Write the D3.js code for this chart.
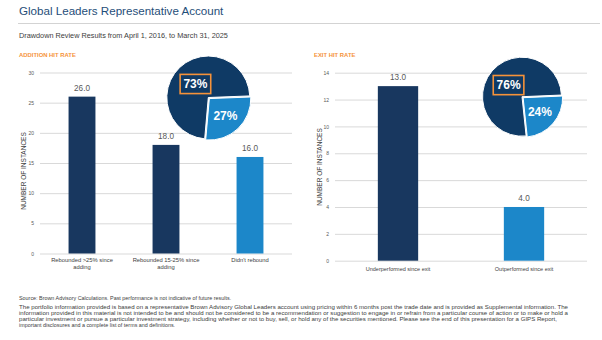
<!DOCTYPE html>
<html>
<head>
<meta charset="utf-8">
<script src="https://cdn.jsdelivr.net/npm/d3@7"></script>
<style>
	body { margin: 0; background: #fff; }
	svg { display: block; font-family: "Liberation Sans", Arial, sans-serif; }
</style>
</head>
<body>
<script>
	// chart data
	let addCategories = ["Rebounded >25% since\nadding", "Rebounded 15-25% since\nadding", "Didn't rebound"];
	let addValues = [26, 18, 16];
	let addTicks = [0, 5, 10, 15, 20, 25, 30];
	let addHit = [73, 27];

	let exitCategories = ["Underperformed since exit", "Outperformed since exit"];
	let exitValues = [13, 4];
	let exitTicks = [0, 2, 4, 6, 8, 10, 12, 14];
	let exitHit = [76, 24];

	let footerLines = [
		"The portfolio information provided is based on a representative Brown Advisory Global Leaders account using pricing within 6 months post the trade date and is provided as Supplemental information. The",
		"information provided in this material is not intended to be and should not be considered to be a recommendation or suggestion to engage in or refrain from a particular course of action or to make or hold a",
		"particular investment or pursue a particular investment strategy, including whether or not to buy, sell, or hold any of the securities mentioned. Please see the end of this presentation for a GIPS Report,",
		"important disclosures and a complete list of terms and definitions."
	];

	let navy = "#18375f";
	let pieNavy = "#0f3a65";
	let blue = "#1c87c9";
	let orange = "#f5923a";
	let grid = "#d9d9d9";

	let svg = d3.select("body").append("svg").attr("width", 602).attr("height", 340);

	// header
	svg.append("text").attr("x", 19).attr("y", 14.5).attr("font-size", 11.6).attr("fill", "#1f4e79")
		.text("Global Leaders Representative Account");
	svg.append("line").attr("x1", 18).attr("x2", 600).attr("y1", 23.5).attr("y2", 23.5)
		.attr("stroke", "#c8c8c8").attr("stroke-width", 0.8);
	svg.append("text").attr("x", 19).attr("y", 37.6).attr("font-size", 7.3).attr("fill", "#404040")
		.text("Drawdown Review Results from April 1, 2016, to March 31, 2025");

	function drawChart(opt) {
		let g = svg.append("g");

		g.append("text").attr("x", opt.titleX).attr("y", 56.6).attr("font-size", 5.9)
			.attr("font-weight", "bold").attr("fill", orange).text(opt.title);

		let x = d3.scaleBand().domain(opt.categories).range(opt.xRange).paddingInner(0.68).paddingOuter(0.34);
		let y = d3.scaleLinear().domain([0, opt.max]).range(opt.yRange);

		// gridlines + tick labels
		let yAxis = g.append("g").attr("transform", `translate(${opt.xRange[0]},0)`)
			.call(d3.axisLeft(y).tickValues(opt.ticks).tickSize(-(opt.xRange[1] - opt.xRange[0])).tickPadding(6));
		yAxis.select(".domain").remove();
		yAxis.selectAll("line").attr("stroke", grid).attr("stroke-width", 1);
		yAxis.selectAll("text").attr("font-size", 5).attr("fill", "#595959").attr("font-family", null);

		g.append("text").attr("transform", `translate(${opt.labelX},${opt.labelY}) rotate(-90)`)
			.attr("text-anchor", "middle").attr("font-size", 6.5).attr("fill", "#404040").attr("dy", "0.35em")
			.text("NUMBER OF INSTANCES");

		// bars
		g.selectAll("rect.bar").data(opt.values).enter().append("rect").attr("class", "bar")
			.attr("x", (d, i) => x(opt.categories[i]))
			.attr("width", x.bandwidth())
			.attr("y", d => y(d))
			.attr("height", d => y(0) - y(d))
			.attr("fill", (d, i) => opt.colors[i]);

		g.selectAll("text.val").data(opt.values).enter().append("text").attr("class", "val")
			.attr("x", (d, i) => x(opt.categories[i]) + x.bandwidth() / 2)
			.attr("y", d => y(d) - 5.8)
			.attr("text-anchor", "middle").attr("font-size", 8.2).attr("fill", "#595959")
			.text(d => d.toFixed(1));

		// category labels
		let xAxis = g.append("g").attr("transform", `translate(0,${y(0)})`)
			.call(d3.axisBottom(x).tickSize(0).tickPadding(0));
		xAxis.select(".domain").remove();
		xAxis.selectAll("text").attr("font-size", opt.catSize).attr("fill", "#404040").attr("font-family", null)
			.attr("dy", null).attr("y", 0)
			.each(function(d) {
				let t = d3.select(this).text("");
				d.split("\n").forEach((line, i) => {
					t.append("tspan").attr("x", 0).attr("y", opt.catY + i * 7).text(line);
				});
			});

		// pie
		let r = opt.pieR;
		let pie = d3.pie().sort(null).startAngle(opt.pieStart * Math.PI / 180)
			.endAngle(opt.pieStart * Math.PI / 180 + 2 * Math.PI);
		let arcs = pie(opt.hit);
		let arc = d3.arc().innerRadius(0).outerRadius(r);
		let pg = g.append("g").attr("transform", `translate(${opt.pieX},${opt.pieY})`);

		arcs.forEach((a, i) => {
			let mid = (a.startAngle + a.endAngle) / 2;
			let off = i == 1 ? 1.5 : 0;
			pg.append("path").attr("d", arc(a))
				.attr("transform", `translate(${Math.sin(mid) * off},${-Math.cos(mid) * off})`)
				.attr("fill", i == 0 ? pieNavy : blue)
				.attr("stroke", "#fff").attr("stroke-width", 1);
		});

		arcs.forEach((a, i) => {
			let mid = (a.startAngle + a.endAngle) / 2;
			let lr = i == 0 ? r * 0.45 : r * 0.6;
			let lx = Math.sin(mid) * lr;
			let ly = -Math.cos(mid) * lr;
			if (i == 0) {
				pg.append("rect").attr("x", lx - 15.3).attr("y", ly - 9.6).attr("width", 30.6).attr("height", 19.2)
					.attr("fill", "none").attr("stroke", orange).attr("stroke-width", 1.6);
			}
			pg.append("text").attr("x", lx).attr("y", ly).attr("dy", "0.36em")
				.attr("text-anchor", "middle").attr("font-size", 12).attr("font-weight", "bold")
				.attr("fill", "#fff").text(a.data + "%");
		});
	}

	drawChart({
		title: "ADDITION HIT RATE", titleX: 19,
		categories: addCategories, values: addValues, ticks: addTicks, max: 30, hit: addHit,
		colors: [navy, navy, blue],
		xRange: [40, 292], yRange: [253.5, 72.5],
		labelX: 24, labelY: 171,
		catY: 8.9, catSize: 5.8,
		pieX: 208.3, pieY: 97.5, pieR: 41.5, pieStart: 185
	});

	drawChart({
		title: "EXIT HIT RATE", titleX: 314,
		categories: exitCategories, values: exitValues, ticks: exitTicks, max: 14, hit: exitHit,
		colors: [navy, blue],
		xRange: [335, 587], yRange: [260.7, 72.7],
		labelX: 319.3, labelY: 167,
		catY: 10.2, catSize: 5.5,
		pieX: 522, pieY: 96.7, pieR: 39.5, pieStart: 174
	});

	// footer
	let foot = svg.append("g").attr("font-size", 5.4).attr("fill", "#404040");
	foot.append("text").attr("x", 19).attr("y", 300.3)
		.text("Source: Brown Advisory Calculations. Past performance is not indicative of future results.");
	let footWidths = [549, 549, 538, null];
	foot.selectAll("text.fl").data(footerLines).enter().append("text").attr("class", "fl")
		.attr("x", 19).attr("y", (d, i) => 308.5 + i * 6.3)
		.each(function(d, i) {
			if (footWidths[i]) d3.select(this).attr("textLength", footWidths[i]).attr("lengthAdjust", "spacingAndGlyphs");
		})
		.text(d => d);
</script>
</body>
</html>
